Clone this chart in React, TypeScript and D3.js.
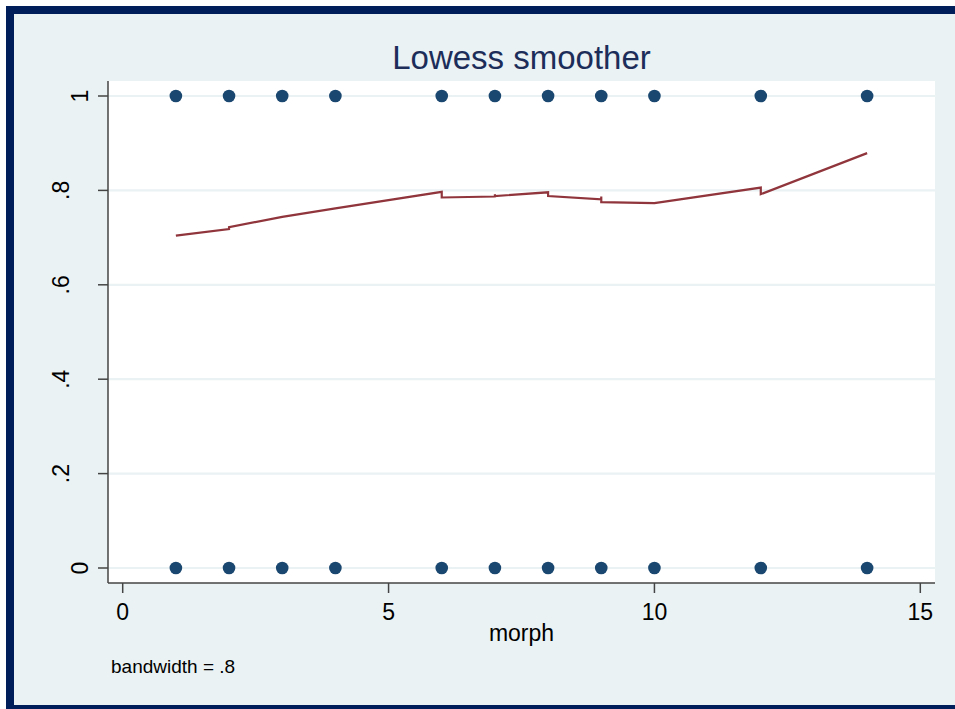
import React from "react";
import * as d3 from "d3";

// Observed outcomes (0/1) by morph value
const morphOnes: number[] = [1, 2, 3, 4, 6, 7, 8, 9, 10, 12, 14];
const morphZeros: number[] = [1, 2, 3, 4, 6, 7, 8, 9, 10, 12, 14];

// Lowess fitted values in sort order (tied x values give short vertical steps)
const lowessX: number[] = [1, 2, 2, 3, 4, 6, 6, 7, 7, 7, 8, 8, 9, 9, 9, 10, 12, 12, 14];
const lowessY: number[] = [
  0.704, 0.718, 0.722, 0.744, 0.762, 0.797, 0.785, 0.787, 0.792, 0.788,
  0.796, 0.788, 0.781, 0.787, 0.775, 0.773, 0.806, 0.792, 0.879,
];

const xTicks: number[] = [0, 5, 10, 15];
const yTicks: number[] = [0, 0.2, 0.4, 0.6, 0.8, 1];
const yTickLabels: string[] = ["0", ".2", ".4", ".6", ".8", "1"];

const W = 955;
const H = 709;
const plot = { left: 108, top: 81, right: 935, bottom: 583 };
const FONT = "'Liberation Sans', Arial, Helvetica, sans-serif";

export default function App() {
  const x = d3.scaleLinear().domain([0, 15]).range([122.7, 920.3]);
  const y = d3.scaleLinear().domain([0, 1]).range([568, 96]);

  const lineGen = d3
    .line<number>()
    .x((_, i) => x(lowessX[i]))
    .y((d) => y(d));

  const tickLen = 10;

  return (
    <svg
      width={W}
      height={H}
      style={{ position: "absolute", left: 0, top: 0, display: "block" }}
      fontFamily={FONT}
    >
      <rect x={0} y={0} width={W} height={H} fill="#ffffff" />
      {/* graph region with dark frame */}
      <rect x={10} y={10} width={W + 20} height={699} fill="#eaf2f3" stroke="#001e5a" strokeWidth={8} />

      {/* plot region */}
      <rect
        x={plot.left}
        y={plot.top}
        width={plot.right - plot.left}
        height={plot.bottom - plot.top}
        fill="#ffffff"
      />

      {/* horizontal grid lines */}
      {yTicks.map((t) => (
        <line
          key={"g" + t}
          x1={plot.left}
          x2={plot.right}
          y1={y(t)}
          y2={y(t)}
          stroke="#eaf2f3"
          strokeWidth={2.2}
        />
      ))}

      {/* axes */}
      <line x1={plot.left} x2={plot.left} y1={plot.top} y2={plot.bottom} stroke="#444" strokeWidth={1.5} />
      <line x1={plot.left} x2={plot.right} y1={plot.bottom} y2={plot.bottom} stroke="#444" strokeWidth={1.5} />

      {/* y ticks and rotated labels */}
      {yTicks.map((t, i) => {
        const lbl = yTickLabels[i];
        const bx = plot.left - tickLen - 10 - (lbl.length - 1) * 19;
        return (
          <g key={"y" + t}>
            <line
              x1={plot.left - tickLen}
              x2={plot.left}
              y1={y(t)}
              y2={y(t)}
              stroke="#444"
              strokeWidth={1.5}
            />
            <text
              transform={`translate(${bx},${y(t)}) rotate(-90)`}
              textAnchor="middle"
              fontSize={23}
              fill="#000"
            >
              {lbl}
            </text>
          </g>
        );
      })}

      {/* x ticks and labels */}
      {xTicks.map((t) => (
        <g key={"x" + t}>
          <line
            x1={x(t)}
            x2={x(t)}
            y1={plot.bottom}
            y2={plot.bottom + tickLen}
            stroke="#444"
            strokeWidth={1.5}
          />
          <text x={x(t)} y={620} textAnchor="middle" fontSize={23} fill="#000">
            {t}
          </text>
        </g>
      ))}

      <text x={(plot.left + plot.right) / 2} y={641} textAnchor="middle" fontSize={23} fill="#000">
        morph
      </text>

      <text x={111} y={673} fontSize={19} fill="#000">
        bandwidth = .8
      </text>

      <text x={(plot.left + plot.right) / 2} y={69} textAnchor="middle" fontSize={33} fill="#1c2d5a">
        Lowess smoother
      </text>

      {/* observations */}
      {morphOnes.map((m, i) => (
        <circle key={"one" + i} cx={x(m)} cy={y(1)} r={6.3} fill="#1a476f" />
      ))}
      {morphZeros.map((m, i) => (
        <circle key={"zero" + i} cx={x(m)} cy={y(0)} r={6.3} fill="#1a476f" />
      ))}

      {/* lowess curve */}
      <path d={lineGen(lowessY) || ""} fill="none" stroke="#90353b" strokeWidth={2.2} />
    </svg>
  );
}
